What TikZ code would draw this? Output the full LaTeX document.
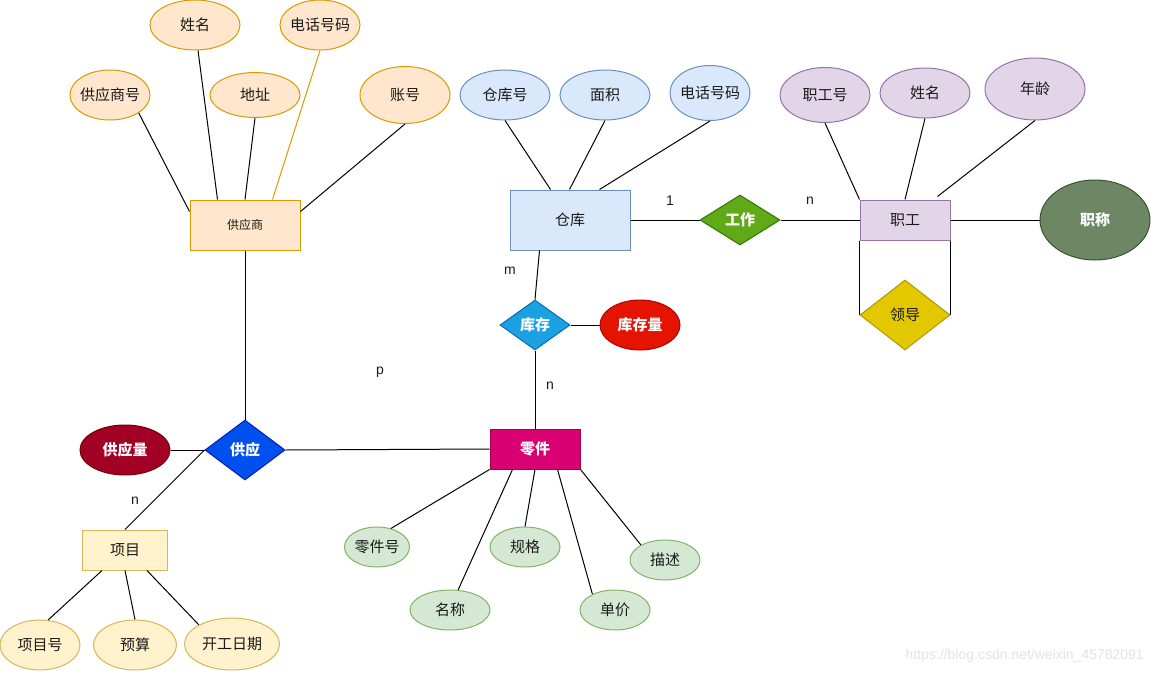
\documentclass[tikz,border=0pt]{standalone}
\usepackage{fontspec}
\setmainfont{Noto Sans CJK SC}
\newfontfamily\latinfont{Liberation Sans}
\usetikzlibrary{shapes.geometric}
\definecolor{supF}{HTML}{FFE6CC}\definecolor{supD}{HTML}{D79B00}
\definecolor{bluF}{HTML}{DAE8FC}\definecolor{bluD}{HTML}{6C8EBF}
\definecolor{purF}{HTML}{E1D5E7}\definecolor{purD}{HTML}{9673A6}
\definecolor{grnF}{HTML}{D5E8D4}\definecolor{grnD}{HTML}{82B366}
\definecolor{yelF}{HTML}{FFF2CC}\definecolor{yelD}{HTML}{D6B656}
\definecolor{workF}{HTML}{60A917}\definecolor{workD}{HTML}{2D7600}
\definecolor{leadF}{HTML}{E3C800}\definecolor{leadD}{HTML}{B09500}
\definecolor{stockF}{HTML}{1BA1E2}\definecolor{stockD}{HTML}{006EAF}
\definecolor{sqF}{HTML}{E51400}\definecolor{sqD}{HTML}{B20000}
\definecolor{partF}{HTML}{D80073}\definecolor{partD}{HTML}{A50040}
\definecolor{supplyF}{HTML}{0050EF}\definecolor{supplyD}{HTML}{001DBC}
\definecolor{sqtyF}{HTML}{A20025}\definecolor{sqtyD}{HTML}{6F0000}
\definecolor{titleF}{HTML}{6D8764}\definecolor{titleD}{HTML}{3A5431}
\definecolor{txt}{HTML}{1A1A1A}
\tikzset{
  base/.style={inner sep=0pt, line width=1pt, text=txt, font=\fontsize{15}{17}\selectfont},
  ell/.style={base, ellipse, inner xsep=-15pt},
  ent/.style={base, rectangle},
  rel/.style={base, diamond},
  sz/.style 2 args={minimum width=#1pt, minimum height=#2pt},
  wtxt/.style={text=white, font=\fontsize{15}{17}\selectfont\bfseries},
  conn/.style={line width=1pt, black},
  card/.style={inner sep=0pt, text=txt, font=\latinfont\fontsize{14}{16}\selectfont},
}
\begin{document}
\begin{tikzpicture}[x=1pt,y=-1pt]
\useasboundingbox[fill=white] (0,0) rectangle (1151,674);

% supplier cluster
\node[ent, sz={110}{50}, fill=supF, draw=supD, font=\fontsize{12}{14}\selectfont] (sup) at (245,225) {供应商};
\node[ell, sz={80}{50}, fill=supF, draw=supD] (sno) at (110,95) {供应商号};
\node[ell, sz={90}{50}, fill=supF, draw=supD] (sname) at (195,25) {姓名};
\node[ell, sz={90}{45}, fill=supF, draw=supD] (saddr) at (255,95) {地址};
\node[ell, sz={80}{50}, fill=supF, draw=supD] (stel) at (320,25) {电话号码};
\node[ell, sz={90}{57}, fill=supF, draw=supD] (sacct) at (405,95) {账号};
\draw[conn] (sno.-32) -- ([yshift=-12pt]sup.north west);
\draw[conn] ([xshift=3pt]sname.south) -- ([xshift=28pt]sup.north west);
\draw[conn] (saddr.south) -- (sup.north);
\draw[line width=1pt, supD] (stel.south) -- ([xshift=83pt]sup.north west);
\draw[conn] (sacct.south) -- ([yshift=-12pt]sup.north east);

% warehouse cluster
\node[ent, sz={120}{60}, fill=bluF, draw=bluD] (wh) at (570,220) {仓库};
\node[ell, sz={90}{50}, fill=bluF, draw=bluD] (wno) at (505,95) {仓库号};
\node[ell, sz={90}{50}, fill=bluF, draw=bluD] (warea) at (605,95) {面积};
\node[ell, sz={80}{55}, fill=bluF, draw=bluD] (wtel) at (710,93) {电话号码};
\draw[conn] (wno.south) -- ([xshift=41pt]wh.north west);
\draw[conn] (warea.south) -- ([xshift=60pt]wh.north west);
\draw[conn] (wtel.south) -- ([xshift=90pt]wh.north west);

% work relation and employee
\node[rel, sz={80}{50}, fill=workF, draw=workD, wtxt] (work) at (740,220) {工作};
\node[ent, sz={90}{40}, fill=purF, draw=purD] (emp) at (905,220) {职工};
\node[ell, sz={90}{55}, fill=purF, draw=purD] (eno) at (825,95) {职工号};
\node[ell, sz={90}{50}, fill=purF, draw=purD] (ename) at (925,93) {姓名};
\node[ell, sz={100}{62}, fill=purF, draw=purD] (eage) at (1035,89) {年龄};
\node[ell, sz={110}{80}, fill=titleF, draw=titleD, wtxt] (etitle) at (1095,220) {职称};
\node[rel, sz={90}{70}, fill=leadF, draw=leadD] (lead) at (905,315) {领导};
\draw[conn] (wh.east) -- (work.west);
\draw[conn] (work.east) -- (emp.west);
\draw[conn] (eno.south) -- (emp.north west);
\draw[conn] (ename.south) -- (emp.north);
\draw[conn] (eage.south) -- ([xshift=78pt,yshift=3pt]emp.north west);
\draw[conn] (emp.east) -- (etitle.west);
\draw[conn] (emp.south west) -- (lead.west);
\draw[conn] (emp.south east) -- (lead.east);
\node[card] (c1) at (670,201) {1};
\node[card] (c2) at (810,201) {n};

% stock relation and part
\node[rel, sz={70}{50}, fill=stockF, draw=stockD, wtxt] (stock) at (535,325) {库存};
\node[ell, sz={80}{50}, fill=sqF, draw=sqD, wtxt] (stockq) at (640,325) {库存量};
\node[ent, sz={90}{40}, fill=partF, draw=partD, wtxt] (part) at (535,449) {零件};
\draw[conn] ([xshift=30pt]wh.south west) -- (stock.north);
\draw[conn] (stock.east) -- (stockq.west);
\draw[conn] (stock.south) -- (part.north);
\node[card] (c3) at (510,271) {m};
\node[card] (c4) at (550,386) {n};

% part attributes
\node[ell, sz={65}{40}, fill=grnF, draw=grnD] (pno) at (377,547) {零件号};
\node[ell, sz={80}{40}, fill=grnF, draw=grnD] (pname) at (450,610) {名称};
\node[ell, sz={70}{40}, fill=grnF, draw=grnD] (pspec) at (525,547) {规格};
\node[ell, sz={70}{40}, fill=grnF, draw=grnD] (pprice) at (615,610) {单价};
\node[ell, sz={70}{40}, fill=grnF, draw=grnD] (pdesc) at (665,560) {描述};
\draw[conn] (pno.53) -- (part.south west);
\draw[conn] (pname.68) -- ([xshift=23pt]part.south west);
\draw[conn] (pspec.north) -- (part.south);
\draw[conn] (pprice.145) -- ([xshift=68pt]part.south west);
\draw[conn] (pdesc.148) -- (part.south east);

% supply relation and project
\node[rel, sz={80}{60}, fill=supplyF, draw=supplyD, wtxt] (supply) at (245,450) {供应};
\node[ell, sz={90}{50}, fill=sqtyF, draw=sqtyD, wtxt] (sqty) at (125,450) {供应量};
\node[ent, sz={85}{40}, fill=yelF, draw=yelD] (proj) at (125,550) {项目};
\node[ell, sz={80}{50}, fill=yelF, draw=yelD] (pjno) at (40,645) {项目号};
\node[ell, sz={83}{50}, fill=yelF, draw=yelD] (pjbud) at (135,645) {预算};
\node[ell, sz={95}{52}, fill=yelF, draw=yelD] (pjdate) at (232,644) {开工日期};
\draw[conn] (sup.south) -- (supply.north);
\draw[conn] (supply.east) -- (part.west);
\draw[conn] (sqty.east) -- (supply.west);
\draw[conn] (supply.west) -- (proj.north);
\draw[conn] (pjno.72) -- ([xshift=20pt]proj.south west);
\draw[conn] (pjbud.north) -- (proj.south);
\draw[conn] (pjdate.150) -- ([xshift=65pt]proj.south west);
\node[card] (c5) at (380,372) {p};
\node[card] (c6) at (135,501) {n};

% watermark
\node[inner sep=0pt, anchor=east, text=black!11, font=\latinfont\fontsize{14}{16}\selectfont] (wm) at (1144,656) {https://blog.csdn.net/weixin\_45782091};
\end{tikzpicture}
\end{document}
